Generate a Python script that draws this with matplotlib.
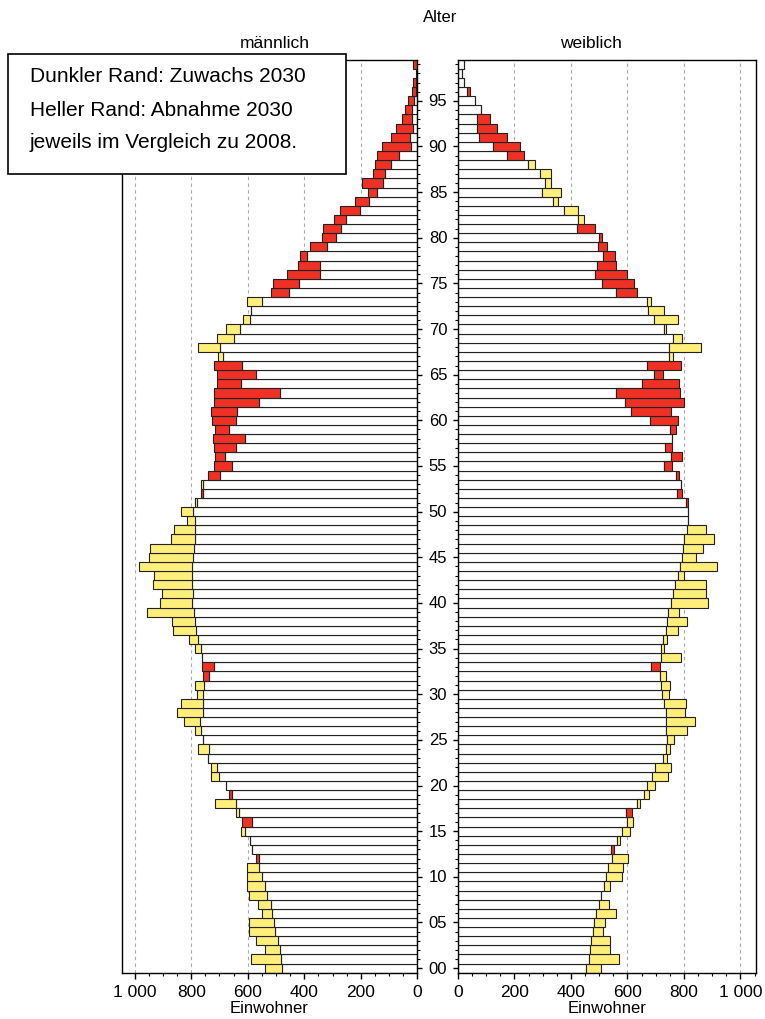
import matplotlib
matplotlib.use("Agg")
import matplotlib.pyplot as plt
import matplotlib.patches as mpatches
from matplotlib.transforms import blended_transform_factory
from matplotlib.ticker import MultipleLocator, FixedLocator, FixedFormatter

plt.rcParams['font.family'] = ['Liberation Sans', 'DejaVu Sans']

ages = list(range(100))

male_2008 = [539, 588, 539, 572, 596, 596, 548, 564, 596, 604,
             604, 604, 560, 584, 592, 625, 586, 642, 717, 657,
             678, 729, 729, 739, 775, 759, 787, 824, 852, 835,
             778, 786, 738, 719, 763, 787, 807, 864, 867, 957,
             910, 905, 935, 933, 986, 950, 946, 870, 860, 814,
             837, 786, 758, 767, 699, 654, 681, 642, 609, 666,
             641, 637, 560, 486, 625, 572, 621, 707, 775, 710,
             678, 617, 590, 601, 455, 420, 346, 346, 389, 321,
             288, 269, 253, 201, 171, 143, 123, 116, 94, 63,
             21, 26, 14, 19, 18, 12, 5, 3, 2, 2]
male_2030 = [478, 483, 486, 494, 503, 507, 513, 518, 531, 539,
             548, 559, 572, 584, 592, 611, 621, 631, 643, 666,
             678, 701, 708, 739, 737, 759, 767, 768, 758, 758,
             760, 754, 758, 762, 763, 767, 775, 782, 786, 791,
             799, 794, 799, 799, 799, 795, 791, 786, 785, 786,
             792, 778, 767, 758, 742, 719, 715, 719, 722, 715,
             727, 730, 719, 719, 710, 710, 719, 689, 699, 649,
             629, 592, 588, 548, 516, 509, 460, 422, 414, 379,
             337, 333, 293, 273, 219, 176, 195, 158, 148, 143,
             126, 94, 74, 53, 42, 34, 17, 14, 6, 16]
female_2008 = [507, 571, 539, 539, 514, 522, 559, 536, 507, 539,
               579, 584, 601, 540, 575, 608, 621, 595, 645, 677,
               699, 742, 755, 739, 750, 766, 812, 840, 802, 807,
               746, 750, 738, 682, 791, 730, 739, 779, 812, 782,
               884, 877, 877, 799, 916, 844, 867, 905, 877, 815,
               815, 806, 774, 791, 773, 729, 754, 734, 758, 750,
               681, 612, 592, 559, 653, 694, 669, 762, 860, 794,
               737, 778, 729, 684, 559, 511, 486, 492, 514, 494,
               499, 422, 446, 426, 353, 366, 329, 329, 273, 175,
               123, 76, 66, 66, 81, 60, 33, 21, 14, 21]
female_2030 = [454, 463, 467, 471, 479, 483, 487, 499, 507, 516,
               524, 532, 544, 551, 564, 579, 597, 617, 635, 657,
               669, 686, 697, 726, 735, 739, 735, 735, 735, 730,
               723, 719, 715, 714, 719, 719, 727, 735, 739, 743,
               755, 760, 768, 779, 787, 792, 795, 800, 812, 815,
               815, 815, 794, 791, 784, 759, 794, 759, 758, 771,
               779, 754, 799, 787, 782, 726, 791, 746, 746, 761,
               730, 693, 674, 668, 632, 624, 599, 559, 555, 526,
               511, 486, 426, 374, 337, 296, 309, 289, 248, 235,
               218, 175, 138, 114, 81, 60, 41, 21, 14, 21]

x_ticks = [0, 200, 400, 600, 800, 1000]
x_tick_labels = ['0', '200', '400', '600', '800', '1 000']
age_ticks = list(range(0, 100, 5))
age_tick_labels = [f'{a:02d}' for a in age_ticks]

RED = '#EE3124'
YELLOW = '#FFEF7A'
EDGE = '#222222'

W, H = 765, 1020
fig = plt.figure(figsize=(W / 100, H / 100), dpi=100)

y0, y1 = 973.7, 60.7
axL = fig.add_axes([121.7 / W, (H - y0) / H, (417.3 - 121.7) / W, (y0 - y1) / H])
axR = fig.add_axes([458.0 / W, (H - y0) / H, (755.7 - 458.0) / W, (y0 - y1) / H])


def draw(ax, v08, v30):
    lo = [min(a, b) for a, b in zip(v08, v30)]
    diff = [abs(a - b) for a, b in zip(v08, v30)]
    cols = [RED if b > a else YELLOW for a, b in zip(v08, v30)]
    ax.barh(ages, lo, height=1.0, color='white', edgecolor=EDGE, linewidth=0.8, zorder=3)
    ax.barh(ages, diff, left=lo, height=1.0, color=cols, edgecolor=EDGE, linewidth=0.8, zorder=3)
    ax.set_ylim(-0.5, 99.5)
    for g in [200, 400, 600, 800, 1000]:
        ax.axvline(g, color='#aaaaaa', lw=0.8, ls=(0, (3, 3)), zorder=1)
    ax.xaxis.set_major_locator(FixedLocator(x_ticks))
    ax.xaxis.set_major_formatter(FixedFormatter(x_tick_labels))
    ax.xaxis.set_minor_locator(MultipleLocator(50))
    ax.tick_params(axis='x', which='major', direction='out', length=4, width=1, labelsize=12.5, pad=4)
    ax.tick_params(axis='x', which='minor', direction='out', length=2.5, width=0.8)
    ax.set_xlabel('Einwohner', fontsize=12, labelpad=1)
    ax.set_yticks(age_ticks)
    ax.yaxis.set_minor_locator(MultipleLocator(1))
    ax.tick_params(axis='y', which='major', direction='out', length=3.5, width=1, labelleft=False, labelright=False)
    ax.tick_params(axis='y', which='minor', direction='out', length=2, width=0.8)
    for s in ax.spines.values():
        s.set_linewidth(1.0)
        s.set_zorder(5)


draw(axL, male_2008, male_2030)
axL.set_xlim(1046, 0)
axL.yaxis.tick_right()
axL.tick_params(axis='y', which='both', labelleft=False, labelright=False)

draw(axR, female_2008, female_2030)
axR.set_xlim(0, 1054)
axR.yaxis.tick_left()
axR.tick_params(axis='y', which='both', labelleft=False, labelright=False)

# age labels between the panels
tr = blended_transform_factory(fig.transFigure, axR.transData)
for a, lab in zip(age_ticks, age_tick_labels):
    fig.text(438 / W, a, lab, transform=tr, ha='center', va='center', fontsize=12)

fig.text(440 / W, 1 - 18 / H, 'Alter', ha='center', va='center', fontsize=12)
fig.text(275 / W, 1 - 43 / H, 'männlich', ha='center', va='center', fontsize=12.5)
fig.text(591 / W, 1 - 43 / H, 'weiblich', ha='center', va='center', fontsize=12.5)

# annotation box
box = mpatches.Rectangle((8 / W, 1 - 175 / H), 338 / W, 120 / H, transform=fig.transFigure,
                         facecolor='white', edgecolor='black', linewidth=1.2, zorder=10)
fig.add_artist(box)
for yy, txt in zip([77, 110, 143], ['Dunkler Rand: Zuwachs 2030',
                                    'Heller Rand: Abnahme 2030',
                                    'jeweils im Vergleich zu 2008.']):
    t = fig.text(30 / W, 1 - yy / H, txt, ha='left', va='center', fontsize=15)
    t.set_zorder(11)

fig.savefig('out.png', dpi=100)
